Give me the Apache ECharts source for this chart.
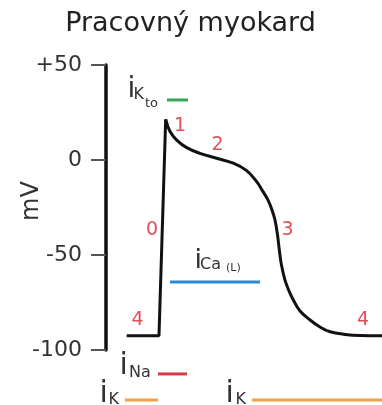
<!DOCTYPE html>
<html>
<head>
<meta charset="utf-8">
<script src="https://cdn.jsdelivr.net/npm/echarts@6/dist/echarts.min.js"></script>
<style>
  html, body { margin: 0; padding: 0; background: #fff; }
  #chart { width: 382px; height: 405px; }
</style>
</head>
<body>
<div id="chart"></div>
<script>
// action potential of working myocardium
const timeMs = [30, 76.8, 86.5, 92.8, 102.5, 117, 136.2, 160.4, 184.5, 203.9, 218.4, 226.1, 234.8, 240.6, 244.9, 248.6, 251.2, 254.3, 259.4, 265.2, 271.5, 281.2, 295.7, 310.2, 324.7, 346.4, 368.1, 400];
const membraneMv = [-92.5, -92.5, 21.4, 15, 10.5, 6.5, 3.5, 0.9, -1.7, -5.6, -11.4, -15.8, -21.1, -26.3, -31.6, -39.5, -47.4, -55.3, -63.2, -68.9, -73.7, -79.5, -84.2, -87.9, -90.4, -91.8, -92.4, -92.5];
const peakIndex = 2;

const yTicks = [-100, -50, 0, 50];

// ionic currents: [start, end] in ms, level in mV-space of the drawing
const currentKto = [[88.4, 31.6], [118.8, 31.6]];
const currentCaL = [[92.8, -64.2], [223.2, -64.2]];
const currentNa = [[75.4, -112.6], [117.4, -112.6]];
const currentK1 = [[27.5, -126.3], [75.4, -126.3]];
const currentK2 = [[211.6, -126.3], [400, -126.3]];

const FONT = 'DejaVu Sans';
const phaseRed = '#e0505a';

const points = timeMs.map((t, i) => [t, membraneMv[i]]);

function txt(text, x, y, size, color, extra) {
  return Object.assign({
    type: 'text', x: x, y: y, silent: true,
    style: { text: text, fontSize: size, fontFamily: FONT, fill: color || '#333',
      align: 'left', verticalAlign: 'middle' },
  }, extra || {});
}

function currentLine(name, data, color) {
  return {
    name: name, type: 'line', data: data, symbol: 'none', clip: false,
    lineStyle: { color: color, width: 3 }, silent: true, z: 3,
  };
}

const chart = echarts.init(document.getElementById('chart'));
chart.setOption({
  animation: false,
  grid: { left: 106, right: 0, top: 65, bottom: 55 },
  xAxis: { type: 'value', min: 0, max: 400, show: false },
  yAxis: {
    type: 'value', min: -100, max: 50, interval: 50,
    axisLine: { show: true, lineStyle: { color: '#111', width: 3.5 } },
    axisTick: { show: true, length: 15, lineStyle: { color: '#555', width: 2 } },
    splitLine: { show: false },
    axisLabel: {
      margin: 24, fontSize: 22, fontFamily: FONT, color: '#333',
      formatter: v => yTicks.includes(v) ? (v > 0 ? '+' + v : String(v)) : '',
    },
  },
  series: [
    {
      name: 'depolarizacia', type: 'line', data: points.slice(0, peakIndex + 1),
      symbol: 'none', lineStyle: { color: '#111', width: 3 }, z: 4,
    },
    {
      name: 'repolarizacia', type: 'line', data: points.slice(peakIndex),
      symbol: 'none', smooth: 0.4,
      lineStyle: { color: '#111', width: 3, join: 'round' }, z: 4,
    },
    currentLine('iKto', currentKto, '#35a853'),
    currentLine('iCa(L)', currentCaL, '#2a8ad6'),
    currentLine('iNa', currentNa, '#d93a48'),
    currentLine('iK', currentK1, '#f0a04b'),
    currentLine('iK2', currentK2, '#f0a04b'),
  ],
  graphic: [
    txt('Pracovný myokard', 190.5, 23.5, 27, '#222', { style: { text: 'Pracovný myokard', fontSize: 27, fontFamily: FONT, fill: '#222', align: 'center', verticalAlign: 'middle' } }),
    txt('mV', 32, 201, 24, '#333', { rotation: Math.PI / 2, style: { text: 'mV', fontSize: 24, fontFamily: FONT, fill: '#333', align: 'center', verticalAlign: 'middle' } }),
    // phase numbers
    txt('1', 174, 126.5, 19, phaseRed),
    txt('2', 211.5, 145.5, 19, phaseRed),
    txt('0', 146, 230.5, 19, phaseRed),
    txt('3', 281.5, 230.5, 19, phaseRed),
    txt('4', 131.5, 320, 19, phaseRed),
    txt('4', 357, 320, 19, phaseRed),
    // current labels
    txt('i', 127.5, 90.2, 28), txt('K', 133.5, 94.4, 16), txt('to', 145, 103.5, 13),
    txt('i', 194.5, 260.5, 27), txt('Ca', 200, 264.4, 16), txt('(L)', 226, 268, 11),
    txt('i', 119.5, 366.5, 30), txt('Na', 129, 372.4, 16),
    txt('i', 99.5, 394.5, 30), txt('K', 108.5, 399.4, 16),
    txt('i', 225.5, 394.5, 30), txt('K', 235.5, 399.4, 16),
  ],
});
</script>
</body>
</html>
